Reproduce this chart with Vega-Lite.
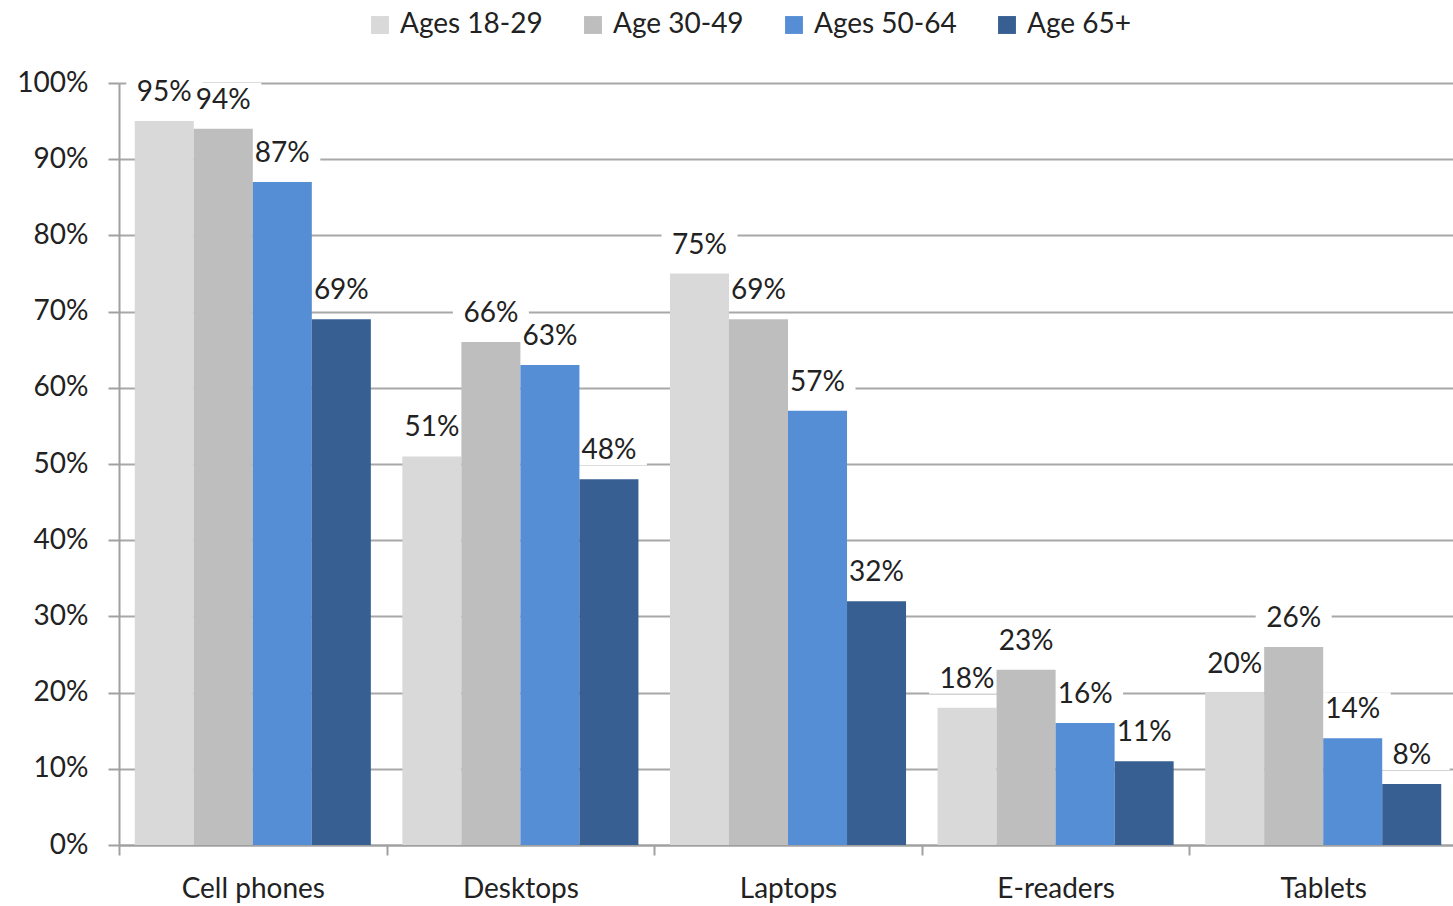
{
  "$schema": "https://vega.github.io/schema/vega-lite/v6.json",
  "autosize": "none",
  "width": 1338,
  "height": 762,
  "padding": {"left": 119, "top": 83, "right": 0, "bottom": 61},
  "background": "white",
  "config": {
    "view": {"stroke": null},
    "font": "Lato",
    "axis": {
      "labelFont": "Lato",
      "labelFontSize": 28,
      "labelColor": "#222222",
      "domainColor": "#a0a0a0",
      "domainWidth": 2,
      "tickColor": "#a0a0a0",
      "tickWidth": 2,
      "gridColor": "#a8a8a8",
      "gridWidth": 2,
      "title": null
    },
    "legend": {"labelFont": "Lato"}
  },
  "data": {
    "values": [
      {"device": "Cell phones", "age": "Ages 18-29", "value": 0.95},
      {"device": "Cell phones", "age": "Age 30-49", "value": 0.94},
      {"device": "Cell phones", "age": "Ages 50-64", "value": 0.87},
      {"device": "Cell phones", "age": "Age 65+", "value": 0.69},
      {"device": "Desktops", "age": "Ages 18-29", "value": 0.51},
      {"device": "Desktops", "age": "Age 30-49", "value": 0.66},
      {"device": "Desktops", "age": "Ages 50-64", "value": 0.63},
      {"device": "Desktops", "age": "Age 65+", "value": 0.48},
      {"device": "Laptops", "age": "Ages 18-29", "value": 0.75},
      {"device": "Laptops", "age": "Age 30-49", "value": 0.69},
      {"device": "Laptops", "age": "Ages 50-64", "value": 0.57},
      {"device": "Laptops", "age": "Age 65+", "value": 0.32},
      {"device": "E-readers", "age": "Ages 18-29", "value": 0.18},
      {"device": "E-readers", "age": "Age 30-49", "value": 0.23},
      {"device": "E-readers", "age": "Ages 50-64", "value": 0.16},
      {"device": "E-readers", "age": "Age 65+", "value": 0.11},
      {"device": "Tablets", "age": "Ages 18-29", "value": 0.20},
      {"device": "Tablets", "age": "Age 30-49", "value": 0.26},
      {"device": "Tablets", "age": "Ages 50-64", "value": 0.14},
      {"device": "Tablets", "age": "Age 65+", "value": 0.08}
    ]
  },
  "encoding": {
    "x": {
      "field": "device",
      "type": "nominal",
      "sort": ["Cell phones", "Desktops", "Laptops", "E-readers", "Tablets"],
      "scale": {"paddingInner": 0, "paddingOuter": 0},
      "axis": {
        "labelAngle": 0,
        "tickBand": "extent",
        "tickSize": 10,
        "labelPadding": 20,
        "grid": false
      }
    },
    "xOffset": {
      "field": "age",
      "type": "nominal",
      "sort": ["Ages 18-29", "Age 30-49", "Ages 50-64", "Age 65+"],
      "scale": {"paddingInner": 0, "paddingOuter": 0.267}
    },
    "y": {
      "field": "value",
      "type": "quantitative",
      "scale": {"domain": [0, 1], "nice": false},
      "axis": {
        "format": ".0%",
        "values": [0, 0.1, 0.2, 0.3, 0.4, 0.5, 0.6, 0.7, 0.8, 0.9, 1.0],
        "tickSize": 11,
        "labelPadding": 20,
        "grid": true
      }
    }
  },
  "layer": [
    {
      "mark": {
        "type": "point",
        "filled": true,
        "shape": "M-1,-1.21L1,-1.21L1,-0.37L-1,-0.37Z",
        "size": 5776,
        "color": "white",
        "opacity": 1,
        "strokeWidth": 0
      }
    },
    {
      "mark": {"type": "bar"},
      "encoding": {
        "color": {
          "field": "age",
          "type": "nominal",
          "sort": ["Ages 18-29", "Age 30-49", "Ages 50-64", "Age 65+"],
          "scale": {
            "domain": ["Ages 18-29", "Age 30-49", "Ages 50-64", "Age 65+"],
            "range": ["#d9d9d9", "#bebebe", "#558ed5", "#375f91"]
          },
          "legend": {
            "title": null,
            "orient": "none",
            "direction": "horizontal",
            "legendX": 247,
            "legendY": -72,
            "symbolType": "square",
            "symbolSize": 320,
            "symbolStrokeWidth": 0,
            "labelFontSize": 28,
            "labelColor": "#222222",
            "labelOffset": 6,
            "columnPadding": 36,
            "labelLimit": 300
          }
        }
      }
    },
    {
      "mark": {
        "type": "text",
        "baseline": "bottom",
        "align": "center",
        "dy": -14,
        "fontSize": 28,
        "color": "#222222"
      },
      "encoding": {
        "text": {"field": "value", "type": "quantitative", "format": ".0%"}
      }
    }
  ]
}
